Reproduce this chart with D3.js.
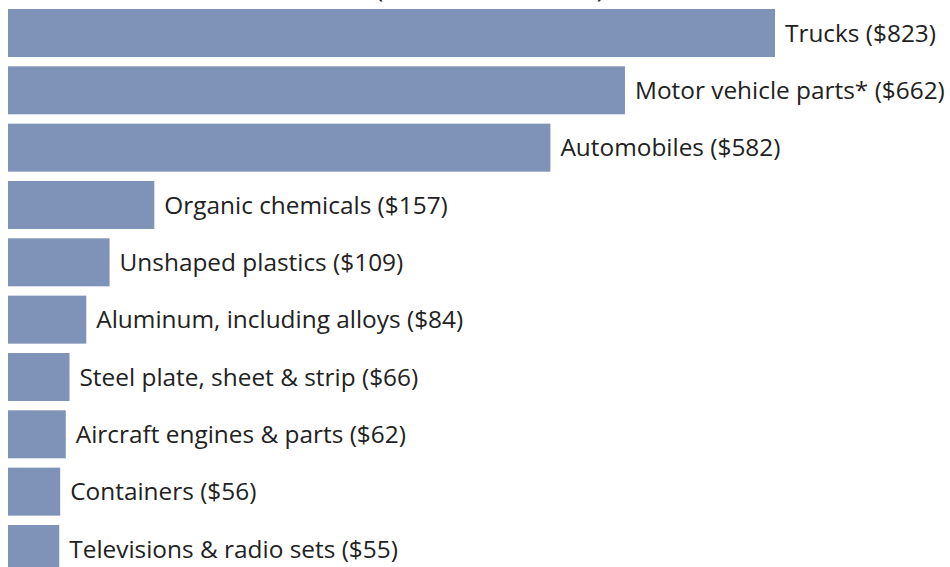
<!DOCTYPE html>
<html>
<head>
<meta charset="utf-8">
<script src="https://cdn.jsdelivr.net/npm/d3@7"></script>
<style>
  body { margin: 0; background: #fff; }
  svg { display: block; }
  text { font-family: "Open Sans", "Noto Sans", sans-serif; fill: #222; }
</style>
</head>
<body>
<div id="chart"></div>
<script>
// top 10 items, values in $
var categories = ["Trucks", "Motor vehicle parts*", "Automobiles", "Organic chemicals",
  "Unshaped plastics", "Aluminum, including alloys", "Steel plate, sheet & strip",
  "Aircraft engines & parts", "Containers", "Televisions & radio sets"];
var values = [823, 662, 582, 157, 109, 84, 66, 62, 56, 55];
var subtitle = "(Millions of dollars)";

var width = 950, height = 567;
var bar_colour = "#7f92b8";
var font_size = 24.4;
var step = 57.33;
var bar_height = 48;

var svg = d3.select("#chart")
  .append("svg")
  .attr("width", width)
  .attr("height", height);

var x = d3.scaleLinear()
  .domain([0, 823])
  .range([8, 775]);

// band step = range / (n - paddingInner), so trim the last gap off the range
var y = d3.scaleBand()
  .domain(categories)
  .range([9, 9 + step * (categories.length - 1) + bar_height])
  .paddingInner((step - bar_height) / step)
  .paddingOuter(0)
  .align(0);

// title sits mostly above the top edge, only the brackets' tails show
svg.append("text")
  .attr("x", 490)
  .attr("y", -3)
  .attr("text-anchor", "middle")
  .attr("font-size", "26px")
  .text(subtitle);

var rows = svg.selectAll("g.row")
  .data(categories)
  .enter()
  .append("g")
  .attr("class", "row");

rows.append("rect")
  .attr("x", x(0))
  .attr("y", function(d) { return y(d); })
  .attr("width", function(d, i) { return x(values[i]) - x(0); })
  .attr("height", y.bandwidth())
  .attr("fill", bar_colour);

rows.append("text")
  .attr("x", function(d, i) { return x(values[i]) + 10; })
  .attr("y", function(d) { return y(d) + y.bandwidth() / 2; })
  .attr("dy", "0.35em")
  .attr("font-size", font_size + "px")
  .text(function(d, i) { return d + " ($" + values[i] + ")"; });
</script>
</body>
</html>
